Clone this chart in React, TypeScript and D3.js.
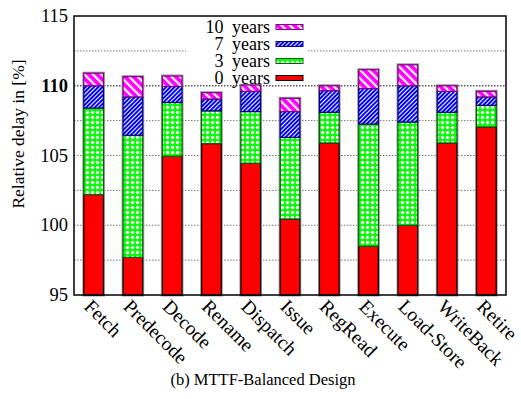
import React from 'react';
import * as d3 from 'd3';

// stage names and relative delay (%) after N years of aging (cumulative tops)
const stages = ['Fetch', 'Predecode', 'Decode', 'Rename', 'Dispatch', 'Issue', 'RegRead', 'Execute', 'Load-Store', 'WriteBack', 'Retire'];
const years0 = [102.2, 97.7, 104.95, 105.85, 104.45, 100.45, 105.9, 98.5, 100.0, 105.9, 107.05];
const years3 = [108.4, 106.45, 108.8, 108.2, 108.15, 106.3, 108.1, 107.25, 107.4, 108.1, 108.6];
const years7 = [110.0, 109.2, 109.95, 109.05, 109.6, 108.15, 109.65, 109.8, 110.0, 109.6, 109.2];
const years10 = [110.9, 110.65, 110.7, 109.5, 110.05, 109.1, 110.0, 111.15, 111.5, 110.0, 109.6];
const yTicks = [95, 100, 105, 110, 115];
const gridTicks = [97.5, 100, 102.5, 105, 107.5, 110, 112.5];

const seriesNames = ['0 years', '3 years', '7 years', '10 years'];
const seriesFill = ['#ff0000', 'url(#pGreen)', 'url(#pBlue)', 'url(#pPink)'];
const seriesStroke = ['#000000', '#006400', '#000080', '#800080'];

const W = 521, H = 399;
const left = 74, right = 506, top = 16, bottom = 295;
const font = '"Liberation Serif", "DejaVu Serif", serif';

export default function App() {
  const x = d3.scaleBand().domain(stages).range([left, right]).paddingInner(0.5).paddingOuter(0.25);
  const y = d3.scaleLinear().domain([95, 115]).range([bottom, top]);
  const series = [years0, years3, years7, years10];

  const legendRows = [3, 2, 1, 0];

  return (
    <svg width={W} height={H} style={{ position: 'absolute', left: 0, top: 0 }} fontFamily={font}>
      <defs>
        <pattern id="pPink" patternUnits="userSpaceOnUse" width="6" height="6" patternTransform="rotate(-45)">
          <rect width="6" height="6" fill="#ff00ff" />
          <rect width="2.2" height="6" fill="#ffffff" />
        </pattern>
        <pattern id="pBlue" patternUnits="userSpaceOnUse" width="3" height="3" patternTransform="rotate(45)">
          <rect width="3" height="3" fill="#0000ff" />
          <rect width="1" height="3" fill="#ffffff" />
        </pattern>
        <pattern id="pGreen" patternUnits="userSpaceOnUse" width="5" height="5">
          <rect width="5" height="5" fill="#00ff00" />
          <circle cx="2.5" cy="2.5" r="1.7" fill="#ffffff" />
        </pattern>
      </defs>
      <rect x={0} y={0} width={W} height={H} fill="#ffffff" />

      {/* grid */}
      {gridTicks.map(t => (
        <line key={t} x1={left} x2={right} y1={y(t)} y2={y(t)} stroke={t === 110 ? '#555' : '#777'} strokeWidth={t === 110 ? 1.4 : 1} strokeDasharray="1.5,1.5" />
      ))}

      {/* bars */}
      {stages.map((s, i) => {
        const bx = x(s)!;
        const bw = x.bandwidth();
        return (
          <g key={s}>
            <rect x={bx} y={y(years10[i])} width={bw} height={y(95) - y(years10[i])} fill="none" stroke="#999" strokeWidth={3} />
            {series.map((vals, k) => {
              const lo = k === 0 ? 95 : series[k - 1][i];
              const hi = vals[i];
              return (
                <rect key={k} x={bx} y={y(hi)} width={bw} height={y(lo) - y(hi)}
                  fill={seriesFill[k]} stroke={seriesStroke[k]} strokeWidth={1.2} />
              );
            })}
          </g>
        );
      })}

      {/* legend */}
      <rect x={186} y={18} width={122} height={66} fill="#ffffff" />
      {legendRows.map((k, r) => {
        const ly = 27 + r * 17;
        return (
          <g key={k}>
            <text x={270} y={ly} dy="0.33em" textAnchor="end" fontSize={18} wordSpacing={4}>{seriesNames[k]}</text>
            <rect x={276} y={ly - 2.5} width={27} height={5} fill={seriesFill[k]} stroke={seriesStroke[k]} strokeWidth={1} />
          </g>
        );
      })}

      {/* frame */}
      <rect x={left} y={top} width={right - left} height={bottom - top} fill="none" stroke="#000" strokeWidth={1.5} />

      {/* y axis */}
      {yTicks.map(t => (
        <text key={t} x={68} y={y(t)} dy="0.33em" textAnchor="end" fontSize={18.5} fontWeight={t === 110 ? 'bold' : 'normal'}>{t}</text>
      ))}
      <text transform={`translate(24,134) rotate(-90)`} textAnchor="middle" fontSize={17.5}>Relative delay in [%]</text>

      {/* x labels */}
      {stages.map(s => {
        const cx = x(s)! + x.bandwidth() / 2;
        return (
          <text key={s} transform={`translate(${cx - 1},${bottom + 3}) rotate(45)`} dy="0.7em" fontSize={19.5}>{s}</text>
        );
      })}

      <text x={263} y={385} textAnchor="middle" fontSize={16.5}>(b) MTTF-Balanced Design</text>
    </svg>
  );
}
